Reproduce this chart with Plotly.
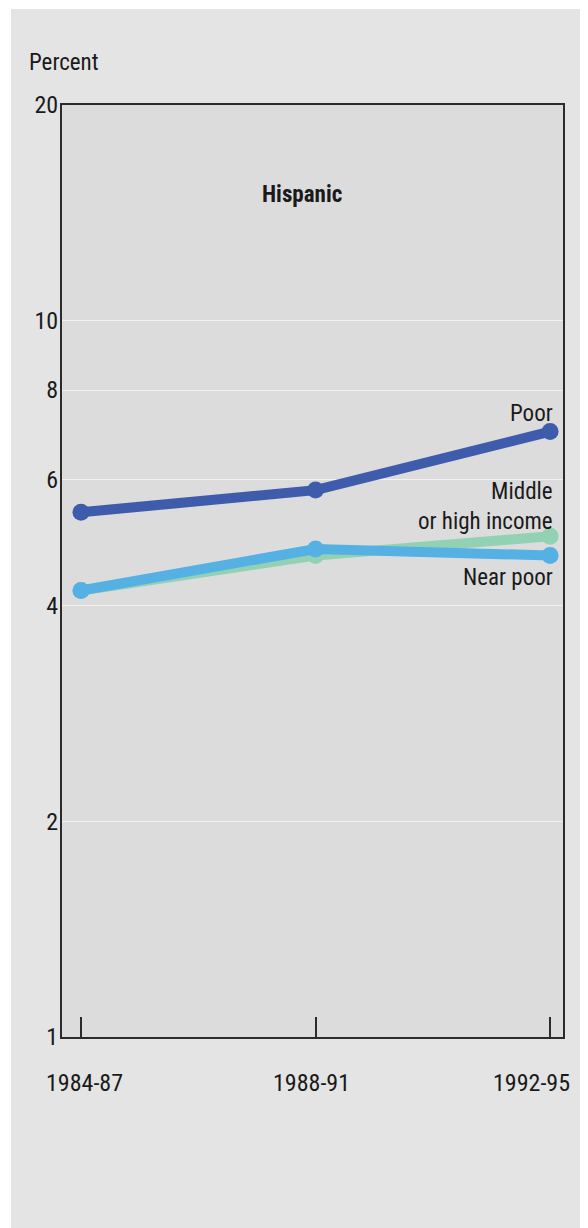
import plotly.graph_objects as go

periods = ["1984-87", "1988-91", "1992-95"]
poor = [5.4, 5.8, 7.0]
near_poor = [4.2, 4.8, 4.7]
middle_high = [4.2, 4.7, 5.0]
y_ticks = [1, 2, 4, 6, 8, 10, 20]

FONT = "Liberation Sans Narrow, Roboto Condensed, Liberation Sans, Arial"
FS = 23
FS_TICK = 24
OFF = 8  # page body margin
W, H = 588 - OFF, 1228 - OFF
# plot area in screen pixels
PX0, PX1, PY0, PY1 = 62, 563, 105, 1037
L, R, T, B = PX0 - OFF, W - (PX1 - OFF), PY0 - OFF, H - (PY1 - OFF)
pw, ph = PX1 - PX0, PY1 - PY0

def px_x(x):
    return (x - PX0) / pw

def px_y(y):
    return (PY1 - y) / ph

fig = go.Figure()
series = [
    ("Middle or high income", middle_high, "#93d1b4"),
    ("Near poor", near_poor, "#55b0e3"),
    ("Poor", poor, "#3f5bab"),
]
for name, vals, col in series:
    fig.add_trace(go.Scatter(
        x=periods, y=vals, mode="lines+markers", name=name,
        line=dict(color=col, width=10),
        marker=dict(color=col, size=17),
        showlegend=False,
    ))

fig.update_layout(
    width=W, height=H,
    margin=dict(l=L, r=R, t=T, b=B),
    paper_bgcolor="white",
    plot_bgcolor="rgba(0,0,0,0)",
    font=dict(family=FONT, size=FS, color="#1a1a1a"),
    shapes=[
        dict(type="rect", xref="paper", yref="paper", layer="below",
             x0=px_x(11), x1=px_x(620), y0=px_y(1260), y1=px_y(9),
             fillcolor="#e4e4e4", line=dict(width=0)),
        dict(type="rect", xref="paper", yref="paper", layer="below",
             x0=0, x1=1, y0=0, y1=1,
             fillcolor="#dcdcdc", line=dict(width=0)),
    ],
)
fig.update_xaxes(
    type="category", range=[-0.081, 2.055], automargin=False,
    showline=True, mirror=True, linecolor="#2b2b2b", linewidth=2,
    ticks="inside", ticklen=20, tickwidth=2, tickcolor="#2b2b2b",
    showgrid=False, showticklabels=False,
)
fig.update_yaxes(
    type="log", range=[0, 1.30103], automargin=False,
    tickvals=y_ticks, ticktext=[str(v) for v in y_ticks],
    showline=True, mirror=True, linecolor="#2b2b2b", linewidth=2,
    ticks="", showgrid=True, gridcolor="#f2f2f2", gridwidth=1,
    zeroline=False, ticklabelstandoff=-3,
    tickfont=dict(family=FONT, size=FS_TICK, color="#1a1a1a"),
)

# period labels under the axis (slightly offset from ticks as in the original)
label_x = [84, 311, 531]
for lab, lx in zip(periods, label_x):
    fig.add_annotation(xref="paper", yref="paper", showarrow=False,
                       text=lab, x=px_x(lx), y=px_y(1083),
                       xanchor="center", yanchor="middle",
                       font=dict(family=FONT, size=FS_TICK, color="#1a1a1a"))

ann = [
    dict(text="Percent", x=px_x(27), y=px_y(62), xanchor="left", yanchor="middle"),
    dict(text="<b>Hispanic</b>", x=px_x(302), y=px_y(195), xanchor="center", yanchor="middle"),
    dict(text="Poor", x=px_x(555), y=px_y(413), xanchor="right", yanchor="middle"),
    dict(text="Middle<br>or high income", x=px_x(555), y=px_y(507), xanchor="right",
         yanchor="middle", align="right"),
    dict(text="Near poor", x=px_x(555), y=px_y(577), xanchor="right", yanchor="middle"),
]
for a in ann:
    fig.add_annotation(xref="paper", yref="paper", showarrow=False,
                       font=dict(family=FONT, size=FS, color="#1a1a1a"), **a)

fig.write_html("out.html")
